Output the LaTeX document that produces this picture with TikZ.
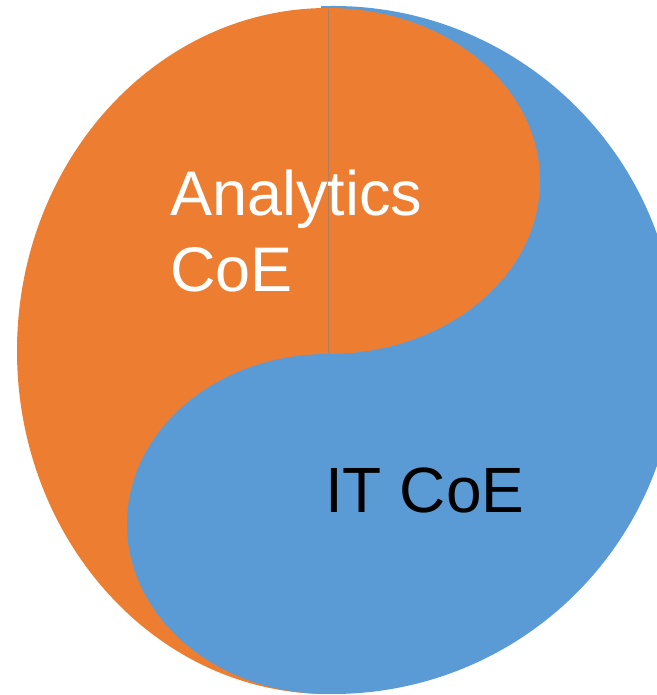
\documentclass[tikz,border=0pt]{standalone}
\usepackage{fontspec}
\setmainfont{Liberation Sans}
\definecolor{coeorange}{HTML}{ED7D31}
\definecolor{coeblue}{HTML}{5B9BD5}

\begin{document}
\begin{tikzpicture}[
    x=1pt, y=1pt,
    halfblue/.style   = {fill=coeblue, draw=none},
    halforange/.style = {fill=coeorange, draw=none},
    seam/.style       = {draw=gray!60!coeorange, line width=0.5pt},
    label/.style      = {inner sep=0pt, align=left,
                         font=\fontsize{63}{76}\selectfont}
]
\useasboundingbox (0,0) rectangle (656,695);

% --- Right half (IT) ---------------------------------------------------------
\fill[halfblue] (333,345) ++(92:344)
    arc[start angle=92, end angle=-92, radius=344] -- cycle;

% --- Left half with upper bulge (Analytics) ----------------------------------
\fill[halforange] (328,687)
    arc[start angle=90, end angle=270, x radius=311, y radius=343]
    -- (328,341)
    arc[start angle=-90, end angle=90, x radius=212, y radius=173] -- cycle;

% --- Lower bulge of the right half -------------------------------------------
\fill[halfblue] (328,341)
    arc[start angle=90, end angle=270, x radius=201, y radius=170]
    -- (336,1) -- (336,341) -- cycle;

\draw[seam] (328,686) -- (328,342);

% --- Labels ------------------------------------------------------------------
\node[label, text=white, anchor=base west] (analytics) at (170,403)
  {Analytics\\CoE};
\node[label, text=black, anchor=base west,
      font=\fontsize{64}{76}\selectfont]   (itcoe) at (325,182)
  {IT CoE};

\end{tikzpicture}
\end{document}
